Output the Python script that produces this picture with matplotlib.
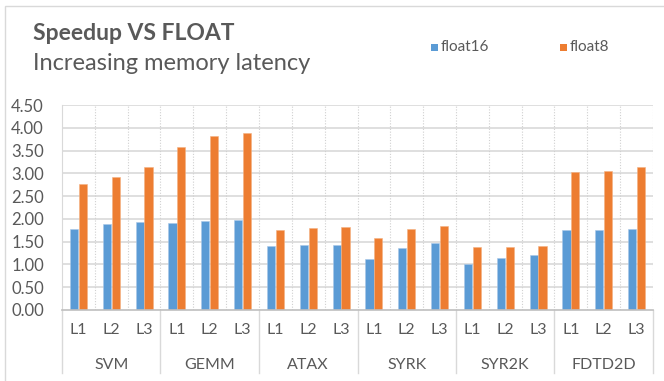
import matplotlib
matplotlib.use("Agg")
import matplotlib.pyplot as plt
from matplotlib.patches import Rectangle
from matplotlib.lines import Line2D
import numpy as np

# ── Data ──
benchmarks = ["SVM", "GEMM", "ATAX", "SYRK", "SYR2K", "FDTD2D"]
levels = ["L1", "L2", "L3"]
float16 = [1.77, 1.89, 1.93,
           1.91, 1.96, 1.98,
           1.41, 1.42, 1.43,
           1.12, 1.36, 1.47,
           1.01, 1.14, 1.20,
           1.75, 1.76, 1.78]
float8 = [2.77, 2.93, 3.14,
          3.57, 3.82, 3.88,
          1.75, 1.80, 1.82,
          1.58, 1.78, 1.85,
          1.39, 1.39, 1.41,
          3.03, 3.06, 3.14]
yticks = [0.0, 0.5, 1.0, 1.5, 2.0, 2.5, 3.0, 3.5, 4.0, 4.5]

BLUE = "#5B9BD5"
ORANGE = "#ED7D31"
TEXT = "#595959"
GRID = "#D9D9D9"

plt.rcParams["font.family"] = ["Lato", "DejaVu Sans"]

W, H = 664, 381
fig = plt.figure(figsize=(W / 100, H / 100), dpi=100)
fig.patch.set_facecolor("white")

# chart frame
fig.add_artist(Rectangle((5 / W, -0.05), 1.1, 1 - 6 / H + 0.05, transform=fig.transFigure,
                         fill=False, edgecolor="#D9D9D9", linewidth=1.0))

ax = fig.add_axes([62 / W, 1 - 310 / H, (653 - 62) / W, (310 - 105) / H])

n = len(float16)
x = np.arange(n)
bw = 0.25
ax.bar(x - 0.135, float16, width=bw, color=BLUE, edgecolor="#A9C8E8", linewidth=0.4, zorder=3)
ax.bar(x + 0.135, float8, width=bw, color=ORANGE, edgecolor="#F4B183", linewidth=0.4, zorder=3)

ax.set_xlim(-0.5, n - 0.5)
ax.set_ylim(0, 4.5)
ax.set_yticks(yticks)
ax.set_yticklabels([f"{v:.2f}" for v in yticks], fontsize=12, color=TEXT)
ax.tick_params(axis="y", length=0, pad=13)

# horizontal grid
for v in yticks[1:]:
    ax.axhline(v, color=GRID, linewidth=1.2, zorder=1)
# dotted vertical separators between categories
for b in np.arange(-0.5, n, 1.0)[1:]:
    ax.axvline(b, color="#D0D0D0", linewidth=0.8, linestyle=(0, (1, 1.5)), zorder=1)

for s in ["top", "right"]:
    ax.spines[s].set_visible(False)
ax.spines["left"].set_color(GRID)
ax.spines["bottom"].set_color("#BFBFBF")
ax.spines["bottom"].set_linewidth(1.2)
ax.spines["bottom"].set_zorder(4)

# level labels
ax.set_xticks(x)
ax.set_xticklabels(levels * len(benchmarks), fontsize=11.5, color=TEXT)
ax.tick_params(axis="x", length=0, pad=9)

# benchmark group labels and separators below the axis
trans = ax.get_xaxis_transform()
sep_bottom = -(373 - 310) / (310 - 105)
for i, name in enumerate(benchmarks):
    ax.text(i * 3 + 1, -(365 - 310) / (310 - 105), name, transform=trans,
            ha="center", va="center", fontsize=11.5, color=TEXT)
for b in np.arange(-0.5, n + 0.5, 3):
    ax.add_line(Line2D([b, b], [0, sep_bottom], transform=trans, color="#D9D9D9",
                       linewidth=1.0, clip_on=False))

# titles
fig.text(33 / W, 1 - 33 / H, "Speedup VS FLOAT", fontsize=16.5, fontweight="bold",
         color=TEXT, ha="left", va="center")
fig.text(33 / W, 1 - 63 / H, "Increasing memory latency", fontsize=17,
         color=TEXT, ha="left", va="center")

# legend
for lx, label, col in [(431, "float16", BLUE), (560, "float8", ORANGE)]:
    fig.add_artist(Rectangle((lx / W, 1 - 51 / H), 7 / W, 7 / H, transform=fig.transFigure,
                             facecolor=col, edgecolor="none"))
    fig.text((lx + 10) / W, 1 - 47 / H, label, fontsize=11, color=TEXT,
             ha="left", va="center")

fig.savefig("out.png", dpi=100)
